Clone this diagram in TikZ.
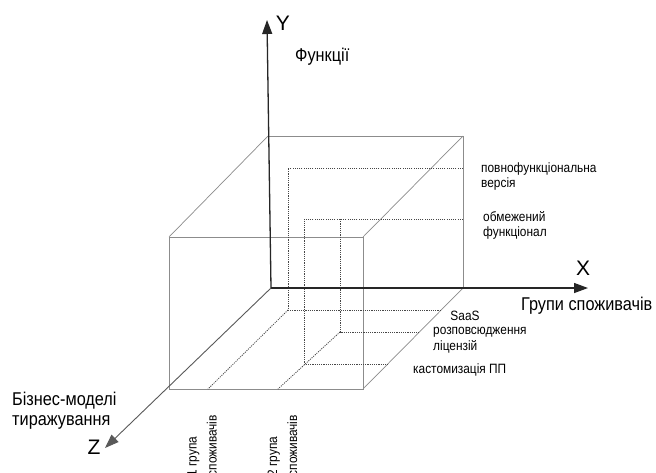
\documentclass[tikz,border=0pt]{standalone}
\usepackage{fontspec}
\setmainfont{Liberation Sans}
\newfontfamily\narrowfont[FakeStretch=0.88]{Liberation Sans}
\usetikzlibrary{arrows.meta}
\begin{document}
\begin{tikzpicture}[x=1pt,y=-1pt,
  axisline/.style={draw=black!85, line width=1.3pt},
  zaxisline/.style={draw=black!65, line width=0.9pt},
  edge/.style={draw=black!45, line width=0.7pt},
  guide/.style={draw=black!72, line width=0.8pt, dash pattern=on 1.1pt off 1.1pt},
  tip/.style={-{Triangle[length=14pt,width=10pt]}},
  big/.style={font=\narrowfont\fontsize{18.5}{20}\selectfont, inner sep=0pt},
  small/.style={font=\narrowfont\fontsize{13.5}{15}\selectfont, inner sep=0pt},
  rot/.style={font=\narrowfont\fontsize{13.5}{20}\selectfont, inner sep=0pt},
  axlab/.style={font=\fontsize{21}{24}\selectfont, inner sep=0pt}]
\useasboundingbox (0,0) rectangle (656,472);
\clip (0,0) rectangle (656,472);
\fill[white] (0,0) rectangle (656,472);
% cube corners
\coordinate (O) at (271,288);
\coordinate (BTL) at (268,136);
\coordinate (BTR) at (463,136);
\coordinate (BBR) at (463,288);
\coordinate (FTL) at (169,237);
\coordinate (FTR) at (363,237);
\coordinate (FBR) at (363,389);
\coordinate (FBL) at (169,389);
\coordinate (Yt) at (267,20);
\coordinate (Xt) at (588,288);
\coordinate (Zt) at (105,448);
% guide points
\coordinate (A1) at (288,168);
\coordinate (A2) at (463,168);
\coordinate (A3) at (288,310);
\coordinate (A4) at (441,310);
\coordinate (A5) at (208,389);
\coordinate (B1) at (304,219);
\coordinate (B2) at (463,219);
\coordinate (B3) at (304,364);
\coordinate (B4) at (388,364);
\coordinate (C1) at (340,219);
\coordinate (C2) at (340,332);
\coordinate (C3) at (419,332);
\coordinate (C4) at (278,389);
% cube edges
\draw[edge] (BTL) -- (BTR) -- (BBR);
\draw[edge] (FTL) -- (FTR) -- (FBR) -- (FBL) -- cycle;
\draw[edge] (BTL) -- (FTL);
\draw[edge] (BTR) -- (FTR);
\draw[edge] (BBR) -- (FBR);
% guides
\draw[guide] (A2) -- (A1) -- (A3) -- (A4);
\draw[guide] (A3) -- (A5);
\draw[guide] (B2) -- (B1) -- (B3) -- (B4);
\draw[guide] (C1) -- (C2) -- (C3);
\draw[guide] (C2) -- (C4);
% axes
\draw[axisline,tip] (O) -- (Yt);
\draw[axisline,tip] (O) -- (Xt);
\draw[zaxisline,tip] (O) -- (Zt);
% axis labels
\node[axlab] (ly) at (283,23) {Y};
\node[axlab] (lx) at (583,268) {X};
\node[axlab] (lz) at (94,447) {Z};
\node[big, anchor=base west] (fn) at (295,61) {Функції};
\node[big, anchor=base west] (gr) at (521,310) {Групи споживачів};
\node[big, anchor=base west] (bm1) at (12,405) {Бізнес-моделі};
\node[big, anchor=base west] (bm2) at (12,425) {тиражування};
% level labels
\node[small, anchor=base west] (l1a) at (481,172) {повнофункціональна};
\node[small, anchor=base west] (l1b) at (481,187) {версія};
\node[small, anchor=base west] (l2a) at (483,221) {обмежений};
\node[small, anchor=base west] (l2b) at (483,236) {функціонал};
\node[small, anchor=base] (m1) at (465,320) {SaaS};
\node[small, anchor=base west] (m2a) at (433,334) {розповсюдження};
\node[small, anchor=base west] (m2b) at (433,350) {ліцензій};
\node[small, anchor=base west] (m3) at (413,373) {кастомизація ПП};
% consumer groups
\node[rot, rotate=90, anchor=east, align=left] (g1) at (202,415) {1 група\\споживачів};
\node[rot, rotate=90, anchor=east, align=left] (g2) at (282.5,415) {2 група\\споживачів};
\end{tikzpicture}
\end{document}
